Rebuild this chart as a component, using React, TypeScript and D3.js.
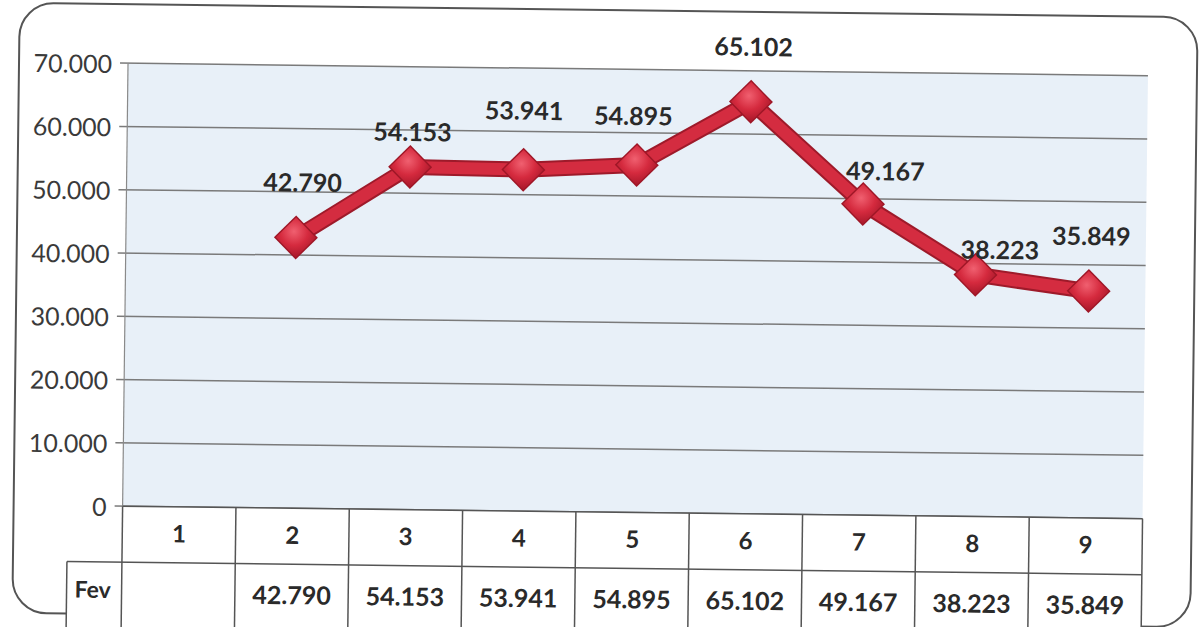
import React from 'react';
import * as d3 from 'd3';

const categories = ['1', '2', '3', '4', '5', '6', '7', '8', '9'];
const seriesName = 'Fev';
const values: (number | null)[] = [null, 42.79, 54.153, 53.941, 54.895, 65.102, 49.167, 38.223, 35.849];
const valueLabels = ['', '42.790', '54.153', '53.941', '54.895', '65.102', '49.167', '38.223', '35.849'];
const yTicks = [0, 10, 20, 30, 40, 50, 60, 70];
const yTickLabels = ['0', '10.000', '20.000', '30.000', '40.000', '50.000', '60.000', '70.000'];
// manual data-label offsets (dx, dy) relative to each point
const labelOffsets: [number, number][] = [[0, 0], [6, -56], [2, -36], [0, -60], [-4, -50], [2, -56], [22, -34], [24, -26], [2, -56]];

const W = 1201;
const H = 627;
const plotL = 125;
const plotR = 1145;
const plotT = 69;
const plotB = 512;
const rowH1 = 56;
const rowH2 = 80;
const rowLabelL = 70;
const FONT = 'Lato, "Open Sans", "Liberation Sans", sans-serif';

export default function App() {
  const x = d3.scaleBand<string>().domain(categories).range([plotL, plotR]).paddingInner(0).paddingOuter(0);
  const y = d3.scaleLinear().domain([0, 70]).range([plotB, plotT]);
  const cx = (c: string) => (x(c) as number) + x.bandwidth() / 2;

  const pts = categories
    .map((c, i) => ({ c, i, v: values[i] }))
    .filter((d) => d.v !== null) as { c: string; i: number; v: number }[];

  const line = d3
    .line<{ c: string; v: number }>()
    .x((d) => cx(d.c))
    .y((d) => y(d.v));
  const pathD = line(pts) || '';

  const tableTop = plotB;
  const row2Top = tableTop + rowH1;
  const row2Bot = row2Top + rowH2;
  const colEdges = categories.map((c) => x(c) as number).concat([plotR]);

  const diamond = (px: number, py: number, r: number) =>
    `M${px},${py - r}L${px + r},${py}L${px},${py + r}L${px - r},${py}Z`;

  return (
    <svg width={W} height={H} style={{ display: 'block', position: 'absolute', left: 0, top: 0, background: '#fff' }}>
      <defs>
        <radialGradient id="mk" cx="45%" cy="35%" r="70%">
          <stop offset="0%" stopColor="#f06070" />
          <stop offset="50%" stopColor="#d52a3e" />
          <stop offset="100%" stopColor="#a11527" />
        </radialGradient>
      </defs>
      <g transform={`rotate(0.7 ${W / 2} ${H / 2})`}>
        {/* outer frame */}
        <rect x={16} y={10} width={1178} height={610} rx={34} ry={34} fill="#fff" stroke="#555" strokeWidth={2} />

        {/* plot background */}
        <rect x={plotL} y={plotT} width={plotR - plotL} height={plotB - plotT} fill="#e8f0f8" />

        {/* gridlines */}
        {yTicks.map((t) => (
          <line key={t} x1={plotL - 8} x2={plotR} y1={y(t)} y2={y(t)} stroke="#7a7a7a" strokeWidth={1.5} />
        ))}
        <line x1={plotL} x2={plotL} y1={plotT} y2={plotB} stroke="#8a8a8a" strokeWidth={1.2} />

        {/* y labels */}
        {yTicks.map((t, i) => (
          <text
            key={'l' + t}
            x={plotL - 16}
            y={y(t)}
            textAnchor="end"
            dominantBaseline="central"
            fontFamily={FONT}
            fontSize={25}
            fill="#3a3a3a"
          >
            {yTickLabels[i]}
          </text>
        ))}

        {/* data table */}
        <rect x={plotL} y={tableTop} width={plotR - plotL} height={rowH1} fill="#fff" />
        <rect x={rowLabelL} y={row2Top} width={plotR - rowLabelL} height={rowH2} fill="#fff" />
        <g stroke="#555" strokeWidth={1.5} fill="none">
          <line x1={plotL} x2={plotR} y1={tableTop} y2={tableTop} />
          <line x1={rowLabelL} x2={plotR} y1={row2Top} y2={row2Top} />
          <line x1={rowLabelL} x2={rowLabelL} y1={row2Top} y2={row2Bot} />
          {colEdges.map((e, i) => (
            <line key={i} x1={e} x2={e} y1={tableTop} y2={row2Bot} />
          ))}
        </g>
        {categories.map((c) => (
          <text
            key={'c' + c}
            x={cx(c)}
            y={tableTop + rowH1 / 2 - 2}
            textAnchor="middle"
            dominantBaseline="central"
            fontFamily={FONT}
            fontWeight="bold"
            fontSize={24}
            fill="#2a2a2a"
          >
            {c}
          </text>
        ))}
        <text
          x={rowLabelL + 8}
          y={row2Top + 27}
          dominantBaseline="central"
          fontFamily={FONT}
          fontWeight="bold"
          fontSize={23}
          fill="#2a2a2a"
        >
          {seriesName}
        </text>
        {categories.map((c, i) => (
          <text
            key={'v' + c}
            x={cx(c)}
            y={row2Top + 30}
            textAnchor="middle"
            dominantBaseline="central"
            fontFamily={FONT}
            fontWeight="bold"
            fontSize={25}
            fill="#2a2a2a"
          >
            {valueLabels[i]}
          </text>
        ))}

        {/* series line */}
        <path d={pathD} fill="none" stroke="#9e1a2a" strokeWidth={16} strokeLinejoin="round" />
        <path d={pathD} fill="none" stroke="#d42c40" strokeWidth={12} strokeLinejoin="round" />

        {/* markers */}
        {pts.map((d) => (
          <g key={'m' + d.c}>
            <path d={diamond(cx(d.c), y(d.v), 22)} fill="#9e1626" />
            <path d={diamond(cx(d.c), y(d.v), 20)} fill="url(#mk)" />
          </g>
        ))}

        {/* data labels */}
        {pts.map((d) => (
          <text
            key={'dl' + d.c}
            x={cx(d.c) + labelOffsets[d.i][0]}
            y={y(d.v) + labelOffsets[d.i][1]}
            textAnchor="middle"
            dominantBaseline="central"
            fontFamily={FONT}
            fontWeight="bold"
            fontSize={25}
            fill="#2a2a2a"
          >
            {valueLabels[d.i]}
          </text>
        ))}
      </g>
    </svg>
  );
}
